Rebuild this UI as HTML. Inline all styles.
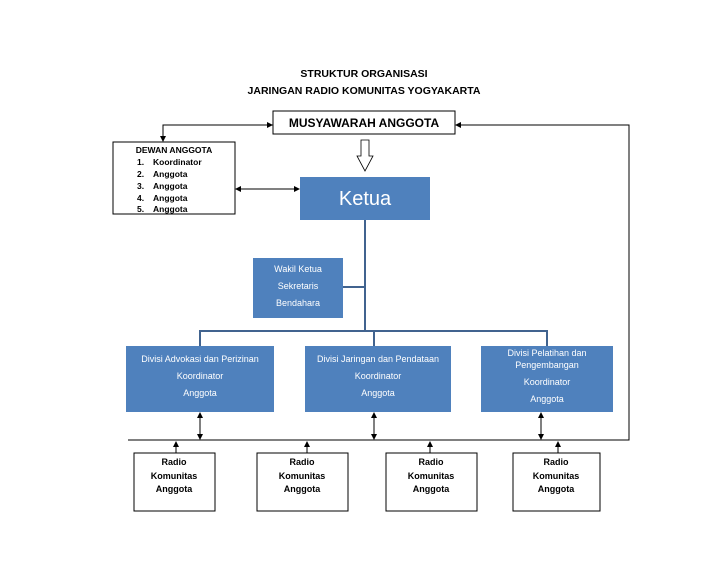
<!DOCTYPE html>
<html><head><meta charset="utf-8"><style>
body{margin:0;background:#fff;width:728px;height:563px;overflow:hidden}
svg text{font-family:"Liberation Sans",sans-serif}
</style></head><body>
<svg width="728" height="563" viewBox="0 0 728 563" xmlns="http://www.w3.org/2000/svg">
<defs>
<marker id="a" markerWidth="6" markerHeight="6" refX="5" refY="3" orient="auto-start-reverse" markerUnits="userSpaceOnUse"><path d="M0,0 L6,3 L0,6z" fill="#000"/></marker>
</defs>
<g font-weight="bold" font-size="10.5" text-anchor="middle" fill="#000">
<text x="364" y="77">STRUKTUR ORGANISASI</text>
<text x="364" y="94">JARINGAN RADIO KOMUNITAS YOGYAKARTA</text>
</g>
<rect x="273" y="111" width="182" height="23" fill="#fff" stroke="#000"/>
<text x="364" y="127" font-size="12" font-weight="bold" text-anchor="middle">MUSYAWARAH ANGGOTA</text>
<polyline points="273,125 163,125 163,141" fill="none" stroke="#000" marker-end="url(#a)"/>
<line x1="200" y1="125" x2="272" y2="125" stroke="#000" marker-end="url(#a)"/>
<polyline points="128,440 629,440 629,125 456,125" fill="none" stroke="#000" marker-end="url(#a)"/>
<rect x="113" y="142" width="122" height="72" fill="#fff" stroke="#000"/>
<g font-size="8.5" font-weight="bold">
<text x="174" y="153" text-anchor="middle">DEWAN ANGGOTA</text>
<text x="137" y="165">1.</text><text x="153" y="165">Koordinator</text>
<text x="137" y="177">2.</text><text x="153" y="177">Anggota</text>
<text x="137" y="189">3.</text><text x="153" y="189">Anggota</text>
<text x="137" y="201">4.</text><text x="153" y="201">Anggota</text>
<text x="137" y="212">5.</text><text x="153" y="212">Anggota</text>
</g>
<line x1="236" y1="189" x2="299" y2="189" stroke="#000" marker-start="url(#a)" marker-end="url(#a)"/>
<path d="M361,140 L369,140 L369,156 L373,156 L365,171 L357,156 L361,156 Z" fill="#fff" stroke="#000" stroke-width="0.8"/>
<rect x="300" y="177" width="130" height="43" fill="#4f81bd"/>
<text x="365" y="205" font-size="20" fill="#fff" text-anchor="middle">Ketua</text>
<g stroke="#41638f" stroke-width="2" fill="none">
<line x1="365" y1="220" x2="365" y2="331"/>
<line x1="343" y1="287" x2="365" y2="287"/>
<polyline points="200,346 200,331 547,331 547,346"/>
<line x1="374" y1="331" x2="374" y2="346"/>
</g>
<rect x="253" y="258" width="90" height="60" fill="#4f81bd"/>
<g font-size="9" fill="#fff" text-anchor="middle">
<text x="298" y="272">Wakil Ketua</text>
<text x="298" y="289">Sekretaris</text>
<text x="298" y="306">Bendahara</text>
</g>
<rect x="126" y="346" width="148" height="66" fill="#4f81bd"/>
<rect x="305" y="346" width="146" height="66" fill="#4f81bd"/>
<rect x="481" y="346" width="132" height="66" fill="#4f81bd"/>
<g font-size="9" fill="#fff" text-anchor="middle">
<text x="200" y="362">Divisi Advokasi dan Perizinan</text>
<text x="200" y="379">Koordinator</text>
<text x="200" y="396">Anggota</text>
<text x="378" y="362">Divisi Jaringan dan Pendataan</text>
<text x="378" y="379">Koordinator</text>
<text x="378" y="396">Anggota</text>
<text x="547" y="356">Divisi  Pelatihan dan</text>
<text x="547" y="368">Pengembangan</text>
<text x="547" y="385">Koordinator</text>
<text x="547" y="402">Anggota</text>
</g>
<g stroke="#000">
<line x1="200" y1="413" x2="200" y2="439" marker-start="url(#a)" marker-end="url(#a)"/>
<line x1="374" y1="413" x2="374" y2="439" marker-start="url(#a)" marker-end="url(#a)"/>
<line x1="541" y1="413" x2="541" y2="439" marker-start="url(#a)" marker-end="url(#a)"/>
<line x1="176" y1="453" x2="176" y2="442" marker-end="url(#a)"/>
<line x1="307" y1="453" x2="307" y2="442" marker-end="url(#a)"/>
<line x1="430" y1="453" x2="430" y2="442" marker-end="url(#a)"/>
<line x1="558" y1="453" x2="558" y2="442" marker-end="url(#a)"/>
</g>
<g fill="#fff" stroke="#000">
<rect x="134" y="453" width="81" height="58"/>
<rect x="257" y="453" width="91" height="58"/>
<rect x="386" y="453" width="91" height="58"/>
<rect x="513" y="453" width="87" height="58"/>
</g>
<g font-size="9" font-weight="bold" text-anchor="middle">
<text x="174" y="465">Radio</text><text x="174" y="479">Komunitas</text><text x="174" y="492">Anggota</text>
<text x="302" y="465">Radio</text><text x="302" y="479">Komunitas</text><text x="302" y="492">Anggota</text>
<text x="431" y="465">Radio</text><text x="431" y="479">Komunitas</text><text x="431" y="492">Anggota</text>
<text x="556" y="465">Radio</text><text x="556" y="479">Komunitas</text><text x="556" y="492">Anggota</text>
</g>
</svg>
</body></html>
